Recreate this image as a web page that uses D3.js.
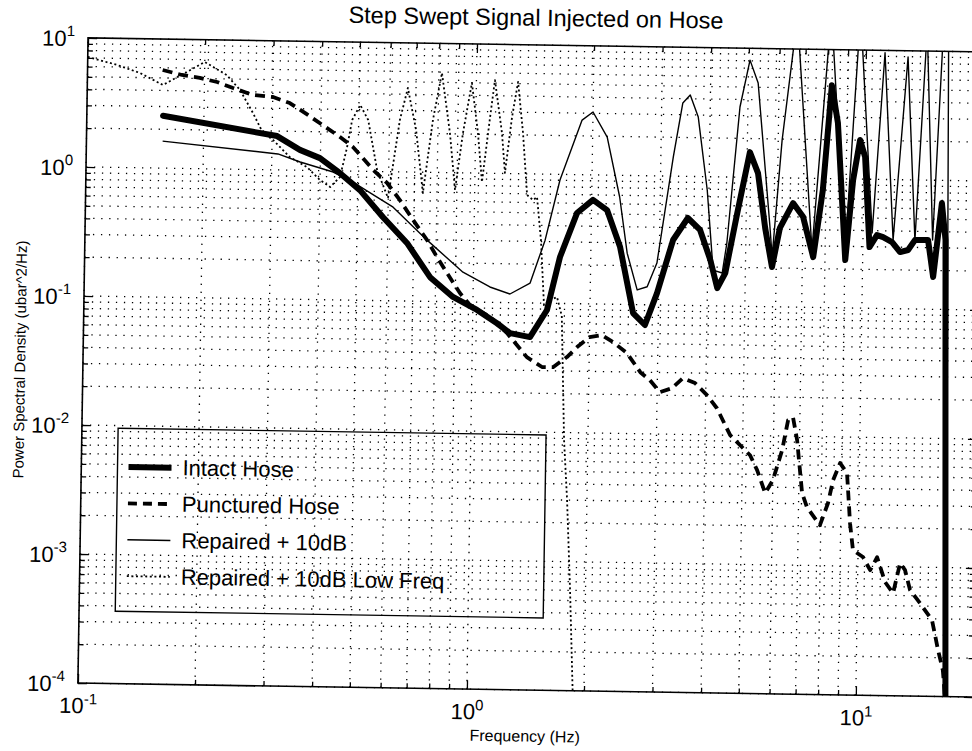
<!DOCTYPE html>
<html>
<head>
<meta charset="utf-8">
<script src="https://cdn.jsdelivr.net/npm/d3@7"></script>
<style>
  body { margin: 0; background: #fff; }
  svg { display: block; }
  text { font-family: "Liberation Sans", Arial, Helvetica, sans-serif; fill: #000; }
</style>
</head>
<body>
<svg id="chart" width="972" height="751"></svg>
<script>
// ---------------- data ----------------
const freqIntact = [0.157,0.309,0.354,0.399,0.450,0.507,0.582,0.673,0.774,0.888,1.025,1.155,1.249,1.406,1.551,1.667,1.836,2.016,2.193,2.377,2.582,2.773,2.97,3.25,3.54,3.81,4.06,4.24,4.44,4.74,5.08,5.34,5.60,5.85,6.11,6.59,7.0,7.46,7.85,8.2,8.53,9.02,9.38,9.74,10.05,10.4,10.86,11.26,11.88,12.47,13.07,13.6,14.27,14.7,15.2,15.9,16.3,17.2];
const psdIntact  = [2.55,1.83,1.44,1.25,0.96,0.714,0.445,0.282,0.154,0.109,0.087,0.069,0.058,0.0544,0.0886,0.229,0.504,0.64,0.536,0.278,0.086,0.0697,0.1236,0.320,0.476,0.386,0.226,0.1374,0.180,0.527,1.57,1.08,0.406,0.203,0.409,0.640,0.503,0.245,0.815,5.3,2.70,0.235,0.98,2.01,1.49,0.298,0.370,0.357,0.328,0.275,0.286,0.342,0.343,0.344,0.178,0.668,0.345,0.00001];

const freqPunctured = [0.156,0.175,0.1945,0.2155,0.237,0.267,0.3006,0.332,0.370,0.415,0.4484,0.4845,0.547,0.595,0.643,0.696,0.758,0.805,0.855,0.925,0.983,1.108,1.227,1.383,1.514,1.616,1.753,1.86,2.0,2.15,2.30,2.50,2.71,2.87,3.05,3.27,3.49,3.75,4.03,4.28,4.64,5.23,5.46,5.74,6.0,6.32,6.53,6.72,6.90,7.14,7.36,7.96,8.33,8.57,8.92,9.30,9.51,9.70,10.3,10.76,11.2,11.77,12.35,12.84,13.23,13.65,14.5,15.59,16.2,16.7,17.06];
const psdPunctured  = [5.76,5.30,5.05,4.72,4.26,3.78,3.67,3.31,2.69,2.14,1.83,1.54,1.03,0.817,0.604,0.426,0.298,0.221,0.167,0.117,0.0946,0.0769,0.058,0.038,0.032,0.032,0.0385,0.0461,0.0553,0.0575,0.0509,0.042,0.030,0.0261,0.0211,0.0227,0.0273,0.0251,0.0203,0.0161,0.0100,0.00703,0.0054,0.00359,0.00454,0.00776,0.0133,0.0140,0.00933,0.00363,0.00282,0.00206,0.00305,0.00461,0.00627,0.00525,0.00215,0.00133,0.00118,0.000935,0.00118,0.000759,0.000624,0.00107,0.000944,0.000663,0.000526,0.00039,0.000229,0.00016,0.00008];

const freqRepaired = [0.157,0.311,0.355,0.432,0.486,0.618,0.758,0.940,1.104,1.244,1.40,1.524,1.655,1.876,2.0,2.18,2.36,2.48,2.64,2.80,2.96,3.23,3.40,3.55,3.73,3.96,4.13,4.36,4.47,4.77,5.04,5.30,5.76,5.85,6.14,6.65,7.4,8.13,9.0,9.66,10.55,11.2,11.95,12.84,13.6,14.35,15.1,15.8,16.3,17.2];
const psdRepaired  = [1.62,1.33,1.16,0.979,0.823,0.532,0.298,0.170,0.1315,0.1167,0.1426,0.308,0.905,2.65,3.07,1.97,0.679,0.250,0.130,0.138,0.211,1.41,3.70,4.28,2.89,0.789,0.189,0.180,0.308,3.50,8.1,5.4,0.415,0.245,1.96,18,0.28,20,0.266,20,0.384,9.6,0.340,8.95,0.34,15,0.344,15,12,0.00001];

const freqLowFreq = [0.1,0.1189,0.1364,0.1564,0.180,0.200,0.228,0.247,0.2673,0.284,0.3015,0.334,0.370,0.400,0.425,0.450,0.468,0.481,0.504,0.529,0.560,0.599,0.638,0.667,0.703,0.736,0.776,0.815,0.859,0.890,0.928,0.974,1.014,1.043,1.088,1.116,1.169,1.194,1.239,1.28,1.324,1.364,1.414,1.447,1.487,1.523,1.578,1.644,1.694,1.737,1.778,1.825,1.876];
const psdLowFreq  = [7.13,6.23,5.43,4.41,5.60,6.73,5.36,4.12,2.74,1.93,1.71,1.26,1.06,0.845,0.748,0.897,1.53,2.49,3.26,2.50,1.03,0.625,2.52,4.48,2.12,0.69,2.55,5.91,2.03,0.735,2.04,4.99,2.05,0.853,2.73,5.28,2.06,1.01,2.75,5.14,2.07,0.686,0.628,0.664,0.308,0.0966,0.106,0.112,0.080,0.00873,0.003,0.0006,0.00008];

const xMajorTicks = [0.1, 1, 10];
const xTickExponents = ["-1", "0", "1"];
const yMajorTicks = [1e-4, 1e-3, 1e-2, 1e-1, 1, 10];
const yTickExponents = ["-4", "-3", "-2", "-1", "0", "1"];
const legendLabels = ["Intact Hose", "Punctured Hose", "Repaired + 10dB", "Repaired + 10dB Low Freq"];
const titleText = "Step Swept Signal Injected on Hose";
const xLabelText = "Frequency (Hz)";
const yLabelText = "Power Spectral Density (ubar^2/Hz)";

// ---------------- layout ----------------
const pL = 82.8, pR = 977.9, pT = 44.2, pB = 689.4;
const x = d3.scaleLog().domain([0.1, 20]).range([pL, pR]);
const y = d3.scaleLog().domain([1e-4, 10]).range([pB, pT]);

const svg = d3.select("#chart");
// the reference is a slightly rotated scan
const g = svg.append("g").attr("transform", "rotate(0.9 486 375)");

g.append("defs").append("clipPath").attr("id", "plotclip")
  .append("rect").attr("x", pL).attr("y", pT)
  .attr("width", pR - pL).attr("height", pB - pT);

// ---------------- grid ----------------
const grid = g.append("g").attr("stroke", "#000").attr("stroke-width", 1.3)
  .attr("stroke-dasharray", "1.3,6.7").attr("fill", "none");
grid.selectAll("line.gx").data(x.ticks()).join("line").attr("class", "gx")
  .attr("x1", d => x(d)).attr("x2", d => x(d)).attr("y1", pB).attr("y2", pT);
grid.selectAll("line.gy").data(y.ticks()).join("line").attr("class", "gy")
  .attr("y1", d => y(d)).attr("y2", d => y(d)).attr("x1", pL).attr("x2", pR);

// ---------------- series ----------------
const line = d3.line().x(d => x(d[0])).y(d => y(d[1]));
const plot = g.append("g").attr("clip-path", "url(#plotclip)").attr("fill", "none")
  .attr("stroke", "#000").attr("stroke-linejoin", "round");

plot.append("path").datum(d3.zip(freqLowFreq, psdLowFreq)).attr("d", line)
  .attr("stroke-width", 1.8).attr("stroke-dasharray", "2,2.6");
plot.append("path").datum(d3.zip(freqRepaired, psdRepaired)).attr("d", line)
  .attr("stroke-width", 1.4);
plot.append("path").datum(d3.zip(freqPunctured, psdPunctured)).attr("d", line)
  .attr("stroke-width", 3.8).attr("stroke-dasharray", "10,6");
plot.append("path").datum(d3.zip(freqIntact, psdIntact)).attr("d", line)
  .attr("stroke-width", 6).attr("stroke-linecap", "round");

// ---------------- axes ----------------
const xMinor = x.ticks().filter(d => !xMajorTicks.some(m => Math.abs(m - d) / m < 1e-9));
const yMinor = y.ticks().filter(d => !yMajorTicks.some(m => Math.abs(m - d) / m < 1e-9));

function styleAxis(sel) {
  sel.select(".domain").remove();
  sel.selectAll(".tick line").attr("stroke", "#000").attr("stroke-width", 1.3);
}
function noLabels(sel) { sel.selectAll(".tick text").remove(); }

// bottom
g.append("g").attr("transform", `translate(0,${pB})`)
  .call(d3.axisBottom(x).tickValues(xMinor).tickSize(-5).tickFormat(""))
  .call(styleAxis).call(noLabels);
const xAx = g.append("g").attr("transform", `translate(0,${pB})`)
  .call(d3.axisBottom(x).tickValues(xMajorTicks).tickSize(-9).tickFormat(""))
  .call(styleAxis);
xAx.selectAll(".tick text").each(function(d, i) {
  const t = d3.select(this).text(null).attr("y", 30).attr("dy", null)
    .attr("font-size", 22).attr("text-anchor", "middle").attr("fill", "#000");
  t.append("tspan").text("10");
  t.append("tspan").text(xTickExponents[i]).attr("font-size", 15).attr("dy", -9);
});
// top
g.append("g").attr("transform", `translate(0,${pT})`)
  .call(d3.axisTop(x).tickValues(xMinor).tickSize(-5).tickFormat("")).call(styleAxis).call(noLabels);
g.append("g").attr("transform", `translate(0,${pT})`)
  .call(d3.axisTop(x).tickValues(xMajorTicks).tickSize(-9).tickFormat("")).call(styleAxis).call(noLabels);
// left
g.append("g").attr("transform", `translate(${pL},0)`)
  .call(d3.axisLeft(y).tickValues(yMinor).tickSize(-5).tickFormat("")).call(styleAxis).call(noLabels);
const yAx = g.append("g").attr("transform", `translate(${pL},0)`)
  .call(d3.axisLeft(y).tickValues(yMajorTicks).tickSize(-9).tickPadding(13).tickFormat(""))
  .call(styleAxis);
yAx.selectAll(".tick text").each(function(d, i) {
  const t = d3.select(this).text(null).attr("dy", "0.36em")
    .attr("font-size", 22).attr("text-anchor", "end").attr("fill", "#000");
  t.append("tspan").text("10");
  t.append("tspan").text(yTickExponents[i]).attr("font-size", 15).attr("dy", -10);
});
// right
g.append("g").attr("transform", `translate(${pR},0)`)
  .call(d3.axisRight(y).tickValues(yMinor).tickSize(-5).tickFormat("")).call(styleAxis).call(noLabels);
g.append("g").attr("transform", `translate(${pR},0)`)
  .call(d3.axisRight(y).tickValues(yMajorTicks).tickSize(-9).tickFormat("")).call(styleAxis).call(noLabels);

// frame
g.append("rect").attr("x", pL).attr("y", pT).attr("width", pR - pL).attr("height", pB - pT)
  .attr("fill", "none").attr("stroke", "#000").attr("stroke-width", 1.6);

// ---------------- texts ----------------
g.append("text").attr("x", (pL + pR) / 2).attr("y", 25).attr("text-anchor", "middle")
  .attr("font-size", 23.5).text(titleText);
g.append("text").attr("x", (pL + pR) / 2).attr("y", 741).attr("text-anchor", "middle")
  .attr("font-size", 16).text(xLabelText);
g.append("text").attr("transform", `translate(25,${(pT + pB) / 2}) rotate(-90)`)
  .attr("text-anchor", "middle").attr("font-size", 15).text(yLabelText);

// ---------------- legend ----------------
const lg = g.append("g");
lg.append("rect").attr("x", 119).attr("y", 434).attr("width", 428).attr("height", 183)
  .attr("fill", "none").attr("stroke", "#000").attr("stroke-width", 1.4);
const legendStyles = [
  { w: 6, dash: null },
  { w: 3.8, dash: "9,6" },
  { w: 1.4, dash: null },
  { w: 1.8, dash: "2,2.6" }
];
legendLabels.forEach((lab, i) => {
  const yy = 472.6 + i * 36.4;
  const s = legendStyles[i];
  const ln = lg.append("line").attr("x1", 130).attr("x2", 173).attr("y1", yy).attr("y2", yy)
    .attr("stroke", "#000").attr("stroke-width", s.w);
  if (s.dash) ln.attr("stroke-dasharray", s.dash);
  lg.append("text").attr("x", 184).attr("y", yy + 7.5).attr("font-size", 22).text(lab);
});
</script>
</body>
</html>
